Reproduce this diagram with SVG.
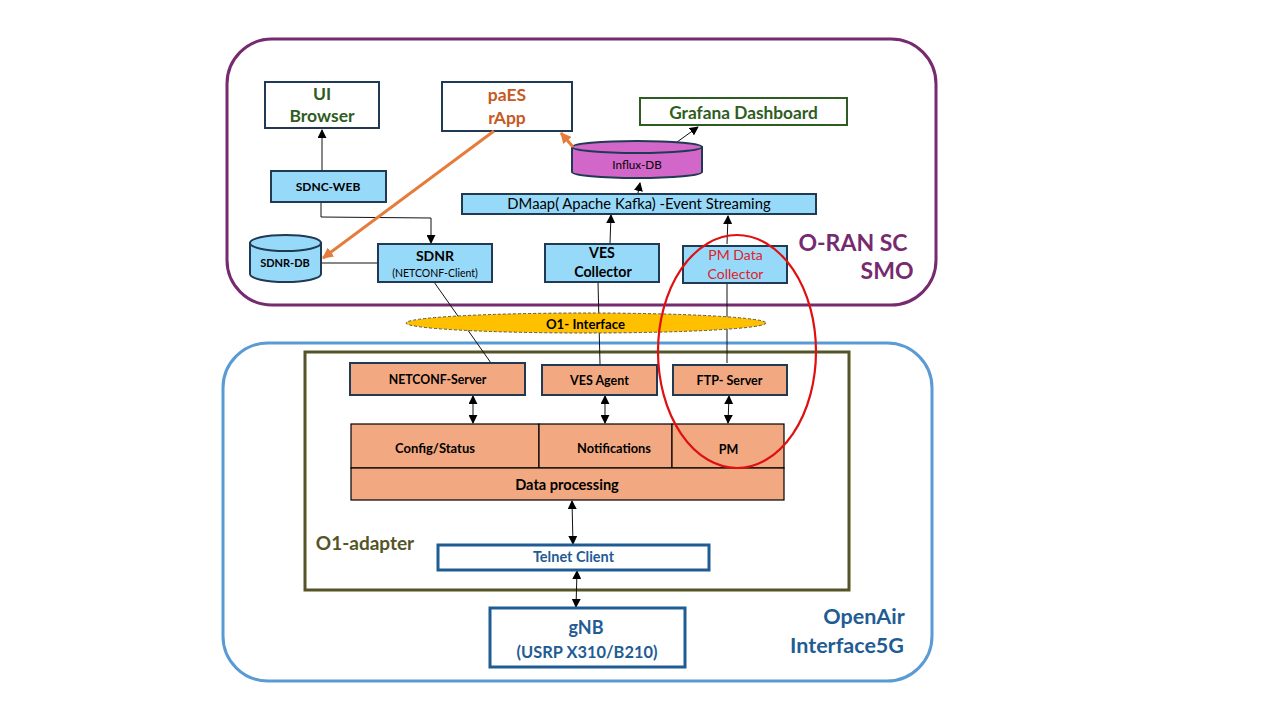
<svg xmlns="http://www.w3.org/2000/svg" width="1280" height="720" viewBox="0 0 1280 720">
<style>
text{font-family:"Lato","Open Sans","Liberation Sans",sans-serif;text-anchor:middle;fill:#000}
.b{font-weight:700}
.blue{fill:#97d9f8;stroke:#1f3a52;stroke-width:2}
.sal{fill:#f2a982;stroke:#1f3a52;stroke-width:2}
.blk{fill:#f2a982;stroke:#000;stroke-width:1.2}
.wh{fill:#fff;stroke:#1f3a52;stroke-width:2}
.c{fill:none;stroke:#111;stroke-width:1}
.o{fill:none;stroke:#e67c3c;stroke-width:3}
</style>
<defs>
<marker id="a" viewBox="0 0 10 10" refX="9" refY="5" markerWidth="9" markerHeight="9" markerUnits="userSpaceOnUse" orient="auto-start-reverse"><path d="M0 0L10 5L0 10Z" fill="#000"/></marker>
<marker id="oa" viewBox="0 0 10 10" refX="9" refY="5" markerWidth="11" markerHeight="11" markerUnits="userSpaceOnUse" orient="auto"><path d="M0 0L10 5L0 10Z" fill="#e67c3c"/></marker>
</defs>
<rect width="1280" height="720" fill="#fff"/>
<g id="smo"><rect x="227" y="39" width="709" height="266" rx="45" fill="#fff" stroke="#762a6f" stroke-width="3"/>
<text class="b" x="853" y="251" font-size="23" style="fill:#762a6f">O-RAN SC</text>
<text class="b" x="887" y="279" font-size="23" style="fill:#762a6f">SMO</text></g>
<g id="oai"><rect x="223" y="343" width="709" height="338" rx="45" fill="#fff" stroke="#5b9bd5" stroke-width="3"/>
<text class="b" x="864" y="624" font-size="21.500" style="fill:#1f5c94">OpenAir</text>
<text class="b" x="847" y="653" font-size="21.500" style="fill:#1f5c94">Interface5G</text></g>
<g id="o1-adapter"><rect x="305" y="352" width="544" height="238" fill="none" stroke="#545426" stroke-width="3"/>
<text class="b" x="365" y="550" font-size="19" style="fill:#545426">O1-adapter</text></g>
<g id="connectors">
<path class="c" d="M322 170V130" marker-end="url(#a)"/>
<path class="c" d="M321 202V217L431 218V243" marker-end="url(#a)"/>
<path class="c" d="M321 263H378"/>
<path class="c" d="M434 282L491 363"/>
<path class="c" d="M598 282L600 364"/>
<path class="c" d="M727 283V363"/>
<path class="c" d="M610 243L611 215" marker-end="url(#a)"/>
<path class="c" d="M727 244L728 216" marker-end="url(#a)"/>
<path class="c" d="M638 193L640 183" marker-end="url(#a)"/>
<path class="c" d="M677 142L698 127" marker-end="url(#a)"/>
<path class="c" d="M473 396V423" marker-start="url(#a)" marker-end="url(#a)"/>
<path class="c" d="M605 396V423" marker-start="url(#a)" marker-end="url(#a)"/>
<path class="c" d="M729 396L728 423" marker-start="url(#a)" marker-end="url(#a)"/>
<path class="c" d="M572 501L573 544" marker-start="url(#a)" marker-end="url(#a)"/>
<path class="c" d="M577 571L576 607" marker-start="url(#a)" marker-end="url(#a)"/>
</g>
<g id="ui-browser"><rect class="wh" x="265" y="82" width="114" height="46"/>
<text class="b" x="322" y="100" font-size="17.500" style="fill:#2f5c22">UI</text>
<text class="b" x="322" y="122" font-size="17.500" style="fill:#2f5c22">Browser</text></g>
<g id="paes-rapp"><rect class="wh" x="442" y="82" width="130" height="49"/>
<text class="b" x="507" y="101" font-size="17.500" style="fill:#c55a22">paES</text>
<text class="b" x="507" y="124" font-size="17.500" style="fill:#c55a22">rApp</text></g>
<g id="grafana"><rect x="640" y="98" width="207" height="27" fill="#fff" stroke="#2f5c22" stroke-width="2"/>
<text class="b" x="743.500" y="119" font-size="17.300" style="fill:#2f5c22">Grafana Dashboard</text></g>
<g id="sdnc-web"><rect class="blue" x="271" y="171" width="115" height="31"/>
<text class="b" x="328" y="191" font-size="12">SDNC-WEB</text></g>
<g id="influx-db"><path d="M572 147V172A65 6 0 0 0 702 172V147Z" fill="#d267c9" stroke="#1f3a52" stroke-width="2"/>
<ellipse cx="637" cy="147" rx="65" ry="6" fill="#d267c9" stroke="#1f3a52" stroke-width="2"/>
<text x="637" y="169" font-size="11.700">Influx-DB</text></g>
<g id="dmaap"><rect class="blue" x="462" y="194" width="354" height="20" stroke-width="1.5"/>
<text x="639" y="209" font-size="14.800">DMaap( Apache Kafka) -Event Streaming</text></g>
<g id="sdnr-db"><path d="M250 243V274A35.500 8 0 0 0 321 274V243Z" class="blue"/>
<ellipse class="blue" cx="285.500" cy="243" rx="35.500" ry="8"/>
<text class="b" x="285" y="267" font-size="11">SDNR-DB</text></g>
<g id="sdnr"><rect class="blue" x="378" y="244" width="114" height="38"/>
<text class="b" x="435" y="261" font-size="14">SDNR</text>
<text x="435" y="277" font-size="10.500">(NETCONF-Client)</text></g>
<g id="ves-collector"><rect class="blue" x="545" y="244" width="114" height="38"/>
<text class="b" x="602" y="258" font-size="14.200">VES</text>
<text class="b" x="603" y="277" font-size="14.200">Collector</text></g>
<g id="pm-collector"><rect class="blue" x="683" y="246" width="104" height="37"/>
<text x="735.500" y="260" font-size="14" style="fill:#e0202a">PM Data</text>
<text x="735.500" y="279" font-size="14" style="fill:#e0202a">Collector</text></g>
<g id="orange-connectors">
<path class="o" d="M494 131L323 258" marker-end="url(#oa)"/>
<path class="o" d="M573 147L561 133" marker-end="url(#oa)"/>
</g>
<g id="o1-interface"><ellipse cx="586" cy="323" rx="180" ry="10" fill="#ffc000" stroke="#555" stroke-width="1" stroke-dasharray="3 2"/>
<text class="b" x="585.500" y="329" font-size="13.200">O1- Interface</text></g>
<g id="netconf-server"><rect class="sal" x="350" y="363" width="175" height="32"/>
<text class="b" x="437.500" y="384" font-size="12.300">NETCONF-Server</text></g>
<g id="ves-agent"><rect class="sal" x="542" y="365" width="115" height="30"/>
<text class="b" x="599.500" y="385" font-size="12.500">VES Agent</text></g>
<g id="ftp-server"><rect class="sal" x="673" y="365" width="114" height="30"/>
<text class="b" x="729.500" y="385" font-size="12.500">FTP- Server</text></g>
<g id="config-status"><rect class="blk" x="351" y="424" width="188" height="44"/>
<text class="b" x="435" y="453" font-size="13">Config/Status</text></g>
<g id="notifications"><rect class="blk" x="539" y="424" width="133" height="44"/>
<text class="b" x="614" y="453" font-size="12.800">Notifications</text></g>
<g id="pm"><rect class="blk" x="672" y="424" width="112" height="44"/>
<text class="b" x="728.500" y="454" font-size="12.500">PM</text></g>
<g id="data-processing"><rect class="blk" x="351" y="468" width="433" height="32"/>
<text class="b" x="567" y="490" font-size="14.600">Data processing</text></g>
<g id="telnet-client"><rect x="438" y="545" width="271" height="25" fill="#fff" stroke="#1f5c94" stroke-width="3"/>
<text class="b" x="573.500" y="562" font-size="14.500" style="fill:#1f5c94">Telnet Client</text></g>
<g id="gnb"><rect x="490" y="608" width="195" height="59" fill="#fff" stroke="#1f5c94" stroke-width="3"/>
<text class="b" x="586" y="634" font-size="18" style="fill:#1f5c94">gNB</text>
<text class="b" x="587" y="658" font-size="16.400" style="fill:#1f5c94">(USRP X310/B210)</text></g>
<g id="highlight"><ellipse cx="737" cy="351.500" rx="79" ry="116.500" fill="none" stroke="#e01010" stroke-width="2.200"/></g>
</svg>
